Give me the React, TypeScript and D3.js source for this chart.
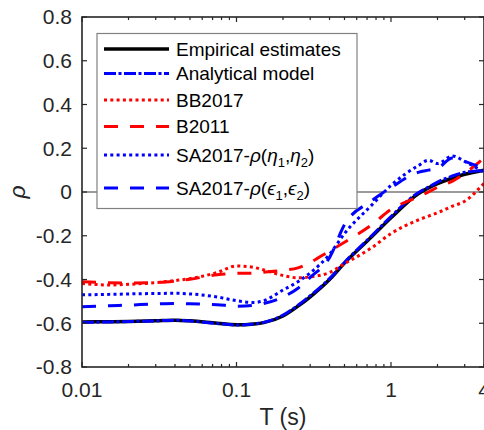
import React from 'react';
import * as d3 from 'd3';

const periods = [0.01, 0.015, 0.02, 0.03, 0.04, 0.05, 0.075, 0.1, 0.13, 0.15, 0.2, 0.25, 0.3, 0.4, 0.5, 0.75, 1, 1.5, 1.75, 2, 2.5, 3, 4];

const empirical = [-0.594, -0.593, -0.592, -0.589, -0.586, -0.589, -0.6, -0.607, -0.603, -0.597, -0.567, -0.522, -0.479, -0.4, -0.325, -0.205, -0.118, -0.008, 0.019, 0.038, 0.064, 0.081, 0.1];
const analytical = [-0.596, -0.594, -0.592, -0.589, -0.586, -0.59, -0.601, -0.608, -0.603, -0.596, -0.563, -0.518, -0.474, -0.396, -0.322, -0.2, -0.112, -0.003, 0.022, 0.045, 0.073, 0.09, 0.098];
const bb2017 = [-0.418, -0.425, -0.422, -0.414, -0.405, -0.396, -0.368, -0.338, -0.345, -0.356, -0.382, -0.392, -0.388, -0.368, -0.328, -0.255, -0.19, -0.128, -0.11, -0.095, -0.065, -0.042, 0.04];
const b2011 = [-0.41, -0.415, -0.416, -0.414, -0.407, -0.399, -0.378, -0.372, -0.371, -0.367, -0.358, -0.347, -0.322, -0.27, -0.23, -0.15, -0.08, -0.022, 0.0, 0.022, 0.05, 0.085, 0.155];
const saEta = [-0.47, -0.468, -0.466, -0.464, -0.463, -0.466, -0.48, -0.497, -0.505, -0.497, -0.448, -0.41, -0.37, -0.285, -0.19, -0.06, 0.03, 0.12, 0.145, 0.13, 0.165, 0.14, 0.09];
const saEps = [-0.525, -0.52, -0.517, -0.512, -0.51, -0.511, -0.515, -0.522, -0.518, -0.51, -0.48, -0.44, -0.39, -0.3, -0.15, -0.04, 0.02, 0.09, 0.1, 0.108, 0.155, 0.14, 0.105];

const xTickValues = [0.01, 0.1, 1, 4];
const xTickLabels = ['0.01', '0.1', '1', '4'];
const yTickValues = [-0.8, -0.6, -0.4, -0.2, 0, 0.2, 0.4, 0.6, 0.8];

const W = 484;
const H = 430;
const margin = { left: 82, right: 0, top: 17, bottom: 63 };
const FONT = '"Liberation Sans", Arial, Helvetica, sans-serif';
const AX = '#262626';

const series = [
  { name: 'Empirical estimates', values: empirical, color: '#000000', dash: null, width: 3.5 },
  { name: 'Analytical model', values: analytical, color: '#0000ff', dash: '12,2.5,3,2.5', width: 3 },
  { name: 'BB2017', values: bb2017, color: '#ff0000', dash: '3,3.3', width: 3 },
  { name: 'B2011', values: b2011, color: '#ff0000', dash: '14,12', width: 3 },
  { name: 'SA2017-eta', values: saEta, color: '#0000ff', dash: '3,3.3', width: 3 },
  { name: 'SA2017-eps', values: saEps, color: '#0000ff', dash: '14,12', width: 3 },
];

const App = () => {
  const x = d3.scaleLog().domain([0.01, 4]).range([margin.left, W - margin.right]);
  const y = d3.scaleLinear().domain([-0.8, 0.8]).range([H - margin.bottom, margin.top]);
  const x0 = x.range()[0];
  const x1 = x.range()[1];
  const yTop = y.range()[1];
  const yBot = y.range()[0];

  const lineGen = d3
    .line<number>()
    .x((d, i) => x(periods[i]))
    .y((d) => y(d))
    .curve(d3.curveMonotoneX);

  // minor ticks of the log axis
  const minor: number[] = [];
  [0.01, 0.1, 1].forEach((dec) => {
    for (let k = 1; k <= 9; k++) {
      const v = dec * k;
      if (v <= 4.0001) minor.push(v);
    }
  });

  const legendRows = [49, 73.5, 100, 126.5, 155, 188];
  const legX0 = 104;
  const legX1 = 169;
  const textX = 176;

  const renderLabel = (i: number) => {
    if (i === 4 || i === 5) {
      const g1 = i === 4 ? 'η' : 'ϵ';
      return (
        <>
          <tspan>SA2017-</tspan>
          <tspan fontStyle="italic">ρ</tspan>
          <tspan>(</tspan>
          <tspan fontStyle="italic">{g1}</tspan>
          <tspan fontSize={13} dy={5}>1</tspan>
          <tspan dy={-5}>,</tspan>
          <tspan fontStyle="italic">{g1}</tspan>
          <tspan fontSize={13} dy={5}>2</tspan>
          <tspan dy={-5}>)</tspan>
        </>
      );
    }
    return series[i].name;
  };

  return (
    <svg width={W} height={H} style={{ position: 'absolute', left: 0, top: 0, background: '#fff' }} fontFamily={FONT}>
      <rect x={0} y={0} width={W} height={H} fill="#fff" />
      {/* zero line */}
      <line x1={x0} x2={x1} y1={y(0)} y2={y(0)} stroke="#7a7a7a" strokeWidth={1.3} />

      {/* curves */}
      {series.map((s, i) => (
        <path
          key={i}
          d={lineGen(s.values) || ''}
          fill="none"
          stroke={s.color}
          strokeWidth={s.width}
          strokeDasharray={s.dash || undefined}
        />
      ))}

      {/* axes box */}
      <rect x={x0} y={yTop} width={x1 - x0} height={yBot - yTop} fill="none" stroke={AX} strokeWidth={1.6} />
      {minor.map((v, i) => {
        const major = xTickValues.includes(v) && v !== 4;
        const len = major ? 5 : 3;
        return (
          <g key={'xt' + i}>
            <line x1={x(v)} x2={x(v)} y1={yBot} y2={yBot - len} stroke={AX} strokeWidth={1.2} />
            <line x1={x(v)} x2={x(v)} y1={yTop} y2={yTop + len} stroke={AX} strokeWidth={1.2} />
          </g>
        );
      })}
      {yTickValues.map((v) => (
        <g key={'yt' + v}>
          <line x1={x0} x2={x0 + 5} y1={y(v)} y2={y(v)} stroke={AX} strokeWidth={1.2} />
          <line x1={x1} x2={x1 - 5} y1={y(v)} y2={y(v)} stroke={AX} strokeWidth={1.2} />
          <text x={x0 - 10} y={y(v)} dy="0.35em" textAnchor="end" fontSize={21} fill={AX}>
            {v === 0 ? '0' : v.toFixed(1)}
          </text>
        </g>
      ))}
      {xTickValues.map((v, i) => (
        <text key={'xl' + v} x={x(v)} y={yBot + 30} textAnchor="middle" fontSize={21} fill={AX}>
          {xTickLabels[i]}
        </text>
      ))}

      {/* axis labels */}
      <text x={(x0 + x1) / 2} y={425} textAnchor="middle" fontSize={23} fill={AX}>
        T (s)
      </text>
      <text
        transform={`translate(25, ${y(0)}) rotate(-90)`}
        textAnchor="middle"
        fontSize={23}
        fontStyle="italic"
        fill={AX}
      >
        ρ
      </text>

      {/* legend */}
      <rect x={97} y={33.5} width={260} height={175} fill="#fff" stroke="#808080" strokeWidth={1.2} />
      {series.map((s, i) => (
        <g key={'lg' + i}>
          <line
            x1={legX0}
            x2={legX1}
            y1={legendRows[i]}
            y2={legendRows[i]}
            stroke={s.color}
            strokeWidth={s.width}
            strokeDasharray={s.dash || undefined}
          />
          <text x={textX} y={legendRows[i]} dy="0.35em" fontSize={19} fill="#000">
            {renderLabel(i)}
          </text>
        </g>
      ))}
    </svg>
  );
};

export default App;
